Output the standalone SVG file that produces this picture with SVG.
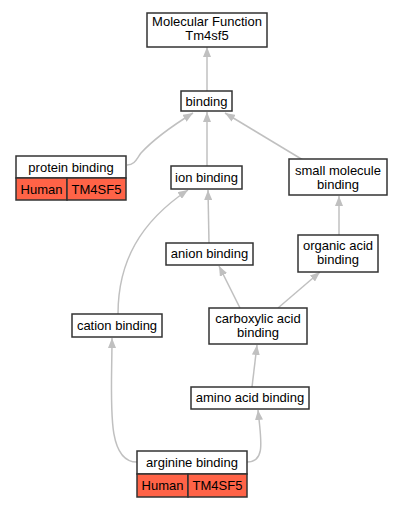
<svg xmlns="http://www.w3.org/2000/svg" width="401" height="507" viewBox="0 0 401 507">
<style>
.box{fill:#ffffff;stroke:#333333;stroke-width:1.5}
.cell{fill:#ff6347;stroke:#333333;stroke-width:1.5}
text{font-family:"Liberation Sans",Arial,sans-serif;font-size:13px;fill:#000000;text-anchor:middle}
.edge{fill:none;stroke:#c0c0c0;stroke-width:1.5}
</style>
<defs>
<marker id="arr" viewBox="0 0 10 8" refX="10" refY="4" markerWidth="10" markerHeight="8" markerUnits="userSpaceOnUse" orient="auto">
<path d="M0,0 L10,4 L0,8 z" fill="#c0c0c0"/>
</marker>
</defs>
<rect width="401" height="507" fill="#ffffff"/>
<g id="edges">
<path class="edge" marker-end="url(#arr)" d="M207,91 L207,47"/>
<path class="edge" marker-end="url(#arr)" d="M127,165 C135,165 137,158 141,153 C152,141 172,126 193,113"/>
<path class="edge" marker-end="url(#arr)" d="M207,166 L207,112"/>
<path class="edge" marker-end="url(#arr)" d="M303,160 L225,113"/>
<path class="edge" marker-end="url(#arr)" d="M209,243 L208,190"/>
<path class="edge" marker-end="url(#arr)" d="M118,314 C118,262 140,222 188,190"/>
<path class="edge" marker-end="url(#arr)" d="M339,235 L339,196"/>
<path class="edge" marker-end="url(#arr)" d="M240,308 L219,266"/>
<path class="edge" marker-end="url(#arr)" d="M278,308 L320,272"/>
<path class="edge" marker-end="url(#arr)" d="M252,387 L257,345"/>
<path class="edge" marker-end="url(#arr)" d="M137,462 C105,462 112,400 112,338"/>
<path class="edge" marker-end="url(#arr)" d="M247,462 C266,462 261,440 258,410"/>
</g>
<g id="mf">
<rect class="box" x="147" y="13" width="120" height="34"/>
<text x="207" y="26">Molecular Function</text>
<text x="207" y="40">Tm4sf5</text>
</g>
<g id="binding">
<rect class="box" x="181" y="91" width="51" height="20"/>
<text x="206.5" y="106">binding</text>
</g>
<g id="protein-binding">
<rect class="box" x="16" y="156" width="110" height="22"/>
<text x="71" y="172">protein binding</text>
<rect class="cell" x="16" y="178" width="51" height="22"/>
<text x="41.5" y="194">Human</text>
<rect class="cell" x="67" y="178" width="59" height="22"/>
<text x="96.5" y="194">TM4SF5</text>
</g>
<g id="ion-binding">
<rect class="box" x="171" y="166" width="71" height="23"/>
<text x="206.5" y="182">ion binding</text>
</g>
<g id="small-molecule-binding">
<rect class="box" x="289" y="159" width="98" height="36"/>
<text x="338" y="175">small molecule</text>
<text x="338" y="189">binding</text>
</g>
<g id="anion-binding">
<rect class="box" x="166" y="243" width="87" height="22"/>
<text x="209.5" y="258">anion binding</text>
</g>
<g id="organic-acid-binding">
<rect class="box" x="298" y="235" width="80" height="37"/>
<text x="338" y="250">organic acid</text>
<text x="338" y="264">binding</text>
</g>
<g id="cation-binding">
<rect class="box" x="72" y="314" width="90" height="23"/>
<text x="117" y="330">cation binding</text>
</g>
<g id="carboxylic-acid-binding">
<rect class="box" x="209" y="308" width="98" height="36"/>
<text x="258" y="323">carboxylic acid</text>
<text x="258" y="337">binding</text>
</g>
<g id="amino-acid-binding">
<rect class="box" x="191" y="387" width="118" height="22"/>
<text x="250" y="402">amino acid binding</text>
</g>
<g id="arginine-binding">
<rect class="box" x="137" y="451" width="110" height="23"/>
<text x="192" y="467">arginine binding</text>
<rect class="cell" x="137" y="474" width="51" height="23"/>
<text x="162.5" y="490">Human</text>
<rect class="cell" x="188" y="474" width="59" height="23"/>
<text x="217.5" y="490">TM4SF5</text>
</g>
</svg>
